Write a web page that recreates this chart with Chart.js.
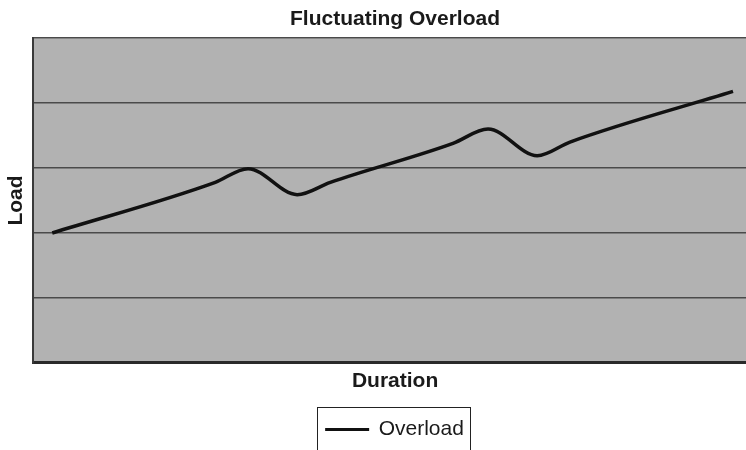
<!DOCTYPE html>
<html>
<head>
<meta charset="utf-8">
<script src="https://cdn.jsdelivr.net/npm/chart.js@4.4.0/dist/chart.umd.min.js"></script>
<style>
    body { margin: 0; overflow: hidden; background: #fff; }
    #wrap { position: absolute; left: 0; top: 0; width: 790px; height: 450px; }
</style>
</head>
<body>
<div id="wrap"><canvas id="chart"></canvas></div>
<script>
// ------------------ Data ------------------
const durations = [0.5, 4.78, 5.64, 6.93, 7.8, 11.02, 11.94, 13.23, 14.09, 18.37];
const loads = [2.0, 2.78, 2.99, 2.59, 2.78, 3.38, 3.6, 3.19, 3.4, 4.18];
const seriesName = "Overload";
const chartTitle = "Fluctuating Overload";
const xTitle = "Duration";
const yTitle = "Load";

const fontFamily = "'Liberation Sans', Arial, sans-serif";

// ------------------ Grey plot background + legend frame ------------------
const plotBackground = {
    id: "plotBackground",
    beforeDraw(chart) {
        const { ctx, chartArea } = chart;
        ctx.save();
        ctx.fillStyle = "#b2b2b2";
        ctx.fillRect(chartArea.left, chartArea.top, chartArea.right - chartArea.left, chartArea.bottom - chartArea.top);
        ctx.restore();
    }
};

const legendFrame = {
    id: "legendFrame",
    afterDraw(chart) {
        const boxes = chart.legend.legendHitBoxes;
        if (!boxes || !boxes.length) return;
        const b = boxes[0];
        const ctx = chart.ctx;
        ctx.save();
        ctx.strokeStyle = "#222";
        ctx.lineWidth = 1;
        ctx.strokeRect(Math.round(b.left - 9) + 0.5, Math.round(b.top - 12) + 0.5, Math.round(b.width + 15), 60);
        ctx.restore();
    }
};

const points = durations.map((d, i) => ({ x: d, y: loads[i] }));

const ctx = document.getElementById("chart").getContext("2d");
const myChart = new Chart(ctx, {
    type: "line",
    data: {
        datasets: [{
            label: seriesName,
            data: points,
            borderColor: "#111",
            backgroundColor: "#111",
            borderWidth: 3.5,
            pointRadius: 0,
            cubicInterpolationMode: "monotone",
        }],
    },
    options: {
        responsive: true,
        maintainAspectRatio: false,
        animation: false,
        layout: { padding: 0 },
        plugins: {
            title: {
                display: true,
                text: chartTitle,
                color: "#1a1a1a",
                font: { family: fontFamily, size: 21, weight: "bold" },
                padding: { top: 7, bottom: 6 },
            },
            legend: {
                position: "bottom",
                labels: {
                    color: "#1a1a1a",
                    font: { family: fontFamily, size: 21 },
                    boxWidth: 42,
                    boxHeight: 1,
                    padding: 10,
                    generateLabels(chart) {
                        const items = Chart.defaults.plugins.legend.labels.generateLabels(chart);
                        items.forEach((item) => { item.lineWidth = 2; });
                        return items;
                    },
                },
            },
            tooltip: { enabled: false },
        },
        scales: {
            x: {
                type: "linear",
                min: 0,
                max: 19,
                grid: { display: false, drawTicks: false },
                border: { display: true, color: "#2a2a2a", width: 3 },
                ticks: { display: false },
                title: {
                    display: true,
                    text: xTitle,
                    color: "#1a1a1a",
                    font: { family: fontFamily, size: 21, weight: "bold" },
                    padding: { top: 6, bottom: 15 },
                },
            },
            y: {
                min: 0,
                max: 5,
                grid: { color: "#4a4a4a", lineWidth: 1.5, drawTicks: false },
                border: { display: true, color: "#3a3a3a", width: 2 },
                ticks: { display: false, stepSize: 1 },
                title: {
                    display: true,
                    text: yTitle,
                    color: "#1a1a1a",
                    font: { family: fontFamily, size: 21, weight: "bold" },
                    padding: { top: 4, bottom: 4 },
                },
            },
            // empty right axis, keeps the plot cut off past the window edge
            yRight: {
                position: "right",
                min: 0,
                max: 5,
                grid: { display: false, drawTicks: false },
                border: { display: false },
                ticks: { display: false },
                afterFit(scale) { scale.width = 33; },
            },
        },
    },
    plugins: [plotBackground, legendFrame],
});
</script>
</body>
</html>
